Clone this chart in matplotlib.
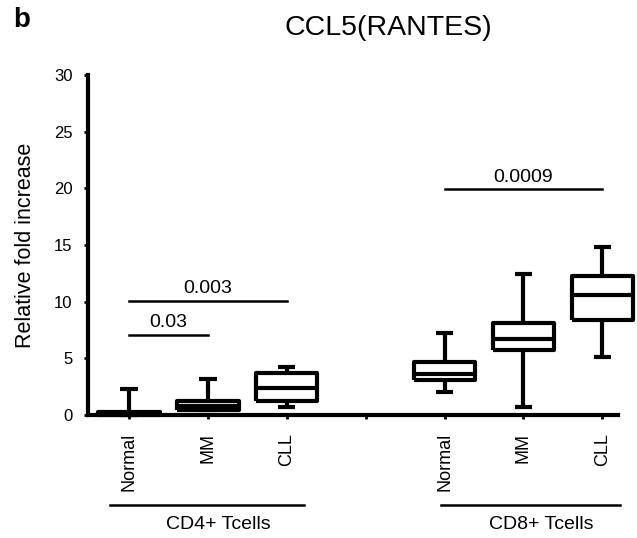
import matplotlib
matplotlib.use('Agg')
import matplotlib.pyplot as plt

plt.rcParams['font.family'] = ['Liberation Sans', 'DejaVu Sans']

# datos
grupos = ['Normal', 'MM', 'CLL', '', 'Normal', 'MM', 'CLL']
pos = [1, 2, 3, 5, 6, 7]
q1 = [0.0, 0.45, 1.2, 3.1, 5.7, 8.4]
med = [0.1, 0.8, 2.4, 3.6, 6.7, 10.6]
q3 = [0.3, 1.2, 3.7, 4.7, 8.1, 12.3]
wlo = [0.0, 0.4, 0.7, 2.0, 0.7, 5.1]
whi = [2.3, 3.2, 4.2, 7.2, 12.4, 14.8]

# comparaciones (x1, x2, y, p)
comp = [(1, 2, 7.1, '0.03'), (1, 3, 10.1, '0.003'), (5, 7, 19.9, '0.0009')]

fig = plt.figure(figsize=(6.37, 5.38), dpi=100)
ax = fig.add_axes([0.138, 0.2286, 0.862, 0.632])

stats = []
for i in range(len(pos)):
    stats.append({'med': med[i], 'q1': q1[i], 'q3': q3[i],
                  'whislo': wlo[i], 'whishi': whi[i], 'fliers': []})

lw = 3.0
ax.bxp(stats, positions=pos, widths=0.78, capwidths=0.22, showfliers=False,
       boxprops=dict(linewidth=lw, color='black'),
       medianprops=dict(linewidth=lw, color='black'),
       whiskerprops=dict(linewidth=lw, color='black'),
       capprops=dict(linewidth=lw, color='black'),
       manage_ticks=False)
for a in ax.lines:
    a.set_clip_on(False)
    a.set_solid_capstyle('butt')

for x1, x2, y, p in comp:
    ax.plot([x1, x2], [y, y], color='black', lw=1.8)
    ax.text((x1 + x2) / 2, y + 0.35, p, ha='center', va='bottom', fontsize=14)

ax.set_xlim(0.48, 7.44)
ax.set_ylim(0, 30)
ax.set_yticks([0, 5, 10, 15, 20, 25, 30])
ax.set_xticks(range(1, 8))
ax.set_xticklabels(grupos, rotation=90, fontsize=13)
ax.tick_params(axis='y', labelsize=12, width=2, length=3, pad=8)
ax.tick_params(axis='x', width=2, length=3, pad=10)
ax.spines['top'].set_visible(False)
ax.spines['right'].set_visible(False)
ax.spines['left'].set_linewidth(lw)
ax.spines['bottom'].set_linewidth(lw)
ax.spines['bottom'].set_bounds(0.48, 7.2)
ax.set_ylabel('Relative fold increase', fontsize=15.5, labelpad=13)

# etiquetas de grupo
ax.plot([0.76, 3.22], [-7.94, -7.94], color='black', lw=1.8, clip_on=False)
ax.plot([4.95, 7.22], [-7.94, -7.94], color='black', lw=1.8, clip_on=False)
ax.text(2.13, -9.7, 'CD4+ Tcells', ha='center', va='center', fontsize=14)
ax.text(6.22, -9.7, 'CD8+ Tcells', ha='center', va='center', fontsize=14)

fig.text(0.609, 0.948, 'CCL5(RANTES)', ha='center', va='center', fontsize=20.5)
fig.text(0.02, 0.962, 'b', ha='left', va='center', fontsize=20, fontweight='bold')

plt.savefig('out.png', dpi=100)
